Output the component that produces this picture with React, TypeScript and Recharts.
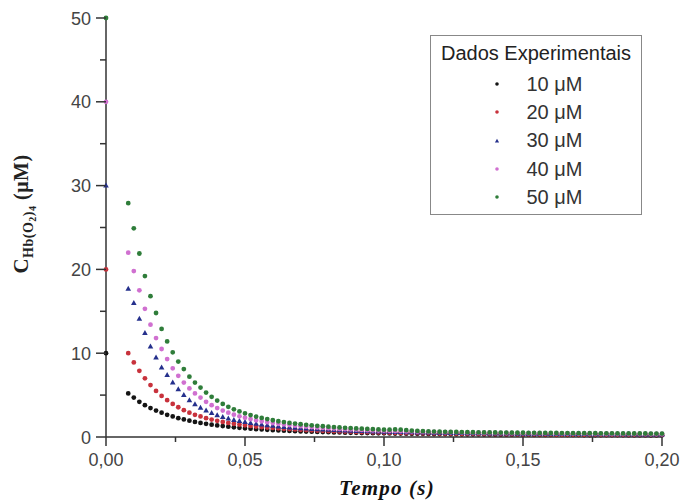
import React from 'react';
import { ScatterChart, Scatter, XAxis, YAxis, Legend, Label } from 'recharts';

// tempo (s): first sample is the initial concentration at t = 0
const TIME = [
  0,
  0.008, 0.01, 0.012, 0.014, 0.016, 0.018, 0.02, 0.022, 0.024, 0.026,
  0.028, 0.03, 0.032, 0.034, 0.036, 0.038, 0.04, 0.042, 0.044, 0.046,
  0.048, 0.05, 0.052, 0.054, 0.056, 0.058, 0.06, 0.062, 0.064, 0.066,
  0.068, 0.07, 0.072, 0.074, 0.076, 0.078, 0.08, 0.082, 0.084, 0.086,
  0.088, 0.09, 0.092, 0.094, 0.096, 0.098, 0.1, 0.102, 0.104, 0.106,
  0.108, 0.11, 0.112, 0.114, 0.116, 0.118, 0.12, 0.122, 0.124, 0.126,
  0.128, 0.13, 0.132, 0.134, 0.136, 0.138, 0.14, 0.142, 0.144, 0.146,
  0.148, 0.15, 0.152, 0.154, 0.156, 0.158, 0.16, 0.162, 0.164, 0.166,
  0.168, 0.17, 0.172, 0.174, 0.176, 0.178, 0.18, 0.182, 0.184, 0.186,
  0.188, 0.19, 0.192, 0.194, 0.196, 0.198, 0.2,
];

const C10 = [
  10,
  5.2, 4.7, 4.2, 3.8, 3.45, 3.15, 2.9, 2.65, 2.45, 2.25,
  2.1, 1.95, 1.8, 1.68, 1.57, 1.47, 1.38, 1.3, 1.23, 1.16,
  1.1, 1.04, 0.99, 0.94, 0.9, 0.86, 0.82, 0.79, 0.76, 0.73,
  0.7, 0.67, 0.65, 0.63, 0.61, 0.59, 0.57, 0.55, 0.54, 0.52,
  0.51, 0.5, 0.48, 0.47, 0.46, 0.45, 0.44, 0.43, 0.42, 0.41,
  0.4, 0.39, 0.38, 0.38, 0.37, 0.36, 0.36, 0.35, 0.34, 0.34,
  0.33, 0.33, 0.32, 0.32, 0.31, 0.31, 0.3, 0.3, 0.29, 0.29,
  0.29, 0.28, 0.28, 0.27, 0.27, 0.27, 0.26, 0.26, 0.26, 0.25,
  0.25, 0.25, 0.24, 0.24, 0.24, 0.24, 0.23, 0.23, 0.23, 0.23,
  0.22, 0.22, 0.22, 0.22, 0.21, 0.21, 0.21,
];

const C20 = [
  20,
  10.0, 8.9, 7.9, 7.0, 6.2, 5.5, 4.9, 4.4, 3.95, 3.55,
  3.2, 2.9, 2.65, 2.45, 2.25, 2.08, 1.93, 1.8, 1.68, 1.58,
  1.48, 1.4, 1.32, 1.25, 1.19, 1.13, 1.08, 1.03, 0.98, 0.94,
  0.9, 0.86, 0.83, 0.8, 0.77, 0.74, 0.71, 0.69, 0.67, 0.65,
  0.63, 0.61, 0.59, 0.57, 0.56, 0.54, 0.53, 0.52, 0.5, 0.49,
  0.48, 0.47, 0.46, 0.45, 0.44, 0.43, 0.42, 0.41, 0.41, 0.4,
  0.39, 0.38, 0.38, 0.37, 0.37, 0.36, 0.35, 0.35, 0.34, 0.34,
  0.33, 0.33, 0.32, 0.32, 0.31, 0.31, 0.31, 0.3, 0.3, 0.29,
  0.29, 0.29, 0.28, 0.28, 0.28, 0.27, 0.27, 0.27, 0.26, 0.26,
  0.26, 0.26, 0.25, 0.25, 0.25, 0.25, 0.24,
];

const C30 = [
  30,
  17.7, 16.0, 14.1, 12.4, 10.8, 9.5, 8.3, 7.4, 6.5, 5.7,
  5.0, 4.4, 3.9, 3.5, 3.15, 2.85, 2.6, 2.38, 2.2, 2.04,
  1.9, 1.78, 1.67, 1.57, 1.48, 1.4, 1.33, 1.26, 1.2, 1.14,
  1.09, 1.04, 1.0, 0.96, 0.92, 0.89, 0.86, 0.83, 0.8, 0.77,
  0.75, 0.73, 0.71, 0.69, 0.67, 0.65, 0.63, 0.62, 0.6, 0.59,
  0.58, 0.56, 0.55, 0.54, 0.53, 0.52, 0.51, 0.5, 0.49, 0.48,
  0.47, 0.46, 0.45, 0.45, 0.44, 0.43, 0.43, 0.42, 0.41, 0.41,
  0.4, 0.4, 0.39, 0.39, 0.38, 0.38, 0.37, 0.37, 0.36, 0.36,
  0.35, 0.35, 0.35, 0.34, 0.34, 0.34, 0.33, 0.33, 0.33, 0.32,
  0.32, 0.32, 0.31, 0.31, 0.31, 0.31, 0.3,
];

const C40 = [
  40,
  22.0, 19.8, 17.5, 15.3, 13.4, 11.8, 10.5, 9.3, 8.2, 7.3,
  6.5, 5.8, 5.2, 4.7, 4.2, 3.8, 3.45, 3.15, 2.9, 2.67,
  2.47, 2.3, 2.14, 2.0, 1.88, 1.77, 1.67, 1.58, 1.5, 1.42,
  1.35, 1.29, 1.23, 1.18, 1.13, 1.08, 1.04, 1.0, 0.96, 0.93,
  0.9, 0.87, 0.84, 0.81, 0.79, 0.77, 0.75, 0.73, 0.71, 0.69,
  0.67, 0.66, 0.64, 0.63, 0.62, 0.6, 0.59, 0.58, 0.57, 0.56,
  0.55, 0.54, 0.53, 0.52, 0.51, 0.51, 0.5, 0.49, 0.48, 0.48,
  0.47, 0.46, 0.46, 0.45, 0.45, 0.44, 0.44, 0.43, 0.43, 0.42,
  0.42, 0.41, 0.41, 0.4, 0.4, 0.4, 0.39, 0.39, 0.38, 0.38,
  0.38, 0.37, 0.37, 0.37, 0.36, 0.36, 0.36,
];

const C50 = [
  50,
  27.9, 24.9, 21.9, 19.2, 16.8, 14.8, 12.9, 11.4, 10.1, 9.0,
  8.1, 7.2, 6.5, 5.9, 5.3, 4.8, 4.35, 3.95, 3.6, 3.3,
  3.05, 2.82, 2.62, 2.44, 2.28, 2.14, 2.0, 1.88, 1.78, 1.68,
  1.6, 1.52, 1.45, 1.39, 1.33, 1.28, 1.23, 1.18, 1.14, 1.1,
  1.06, 1.02, 0.99, 0.96, 0.93, 0.9, 0.88, 0.88, 0.9, 0.88,
  0.82, 0.76, 0.72, 0.69, 0.67, 0.65, 0.63, 0.62, 0.61, 0.6,
  0.59, 0.58, 0.57, 0.56, 0.55, 0.55, 0.54, 0.53, 0.53, 0.52,
  0.51, 0.51, 0.5, 0.5, 0.49, 0.49, 0.48, 0.48, 0.47, 0.47,
  0.46, 0.46, 0.46, 0.45, 0.45, 0.44, 0.44, 0.44, 0.43, 0.43,
  0.43, 0.42, 0.42, 0.42, 0.41, 0.41, 0.41,
];

const SERIES_NAMES = ['10 μM', '20 μM', '30 μM', '40 μM', '50 μM'];

const X_TICKS = [0, 0.025, 0.05, 0.075, 0.1, 0.125, 0.15, 0.175, 0.2];
const X_MAJOR = [0, 0.05, 0.1, 0.15, 0.2];
const X_LABELS = ['0,00', '0,05', '0,10', '0,15', '0,20'];
const Y_TICKS = [0, 5, 10, 15, 20, 25, 30, 35, 40, 45, 50];
const Y_MAJOR = [0, 10, 20, 30, 40, 50];
const Y_LABELS = ['0', '10', '20', '30', '40', '50'];

const SANS = '"Liberation Sans", Arial, sans-serif';
const SERIF = '"Liberation Serif", "DejaVu Serif", serif';
const AXIS = '#333';

const series = [
  { name: SERIES_NAMES[0], values: C10, color: '#141414', kind: 'circle' },
  { name: SERIES_NAMES[1], values: C20, color: '#c8323c', kind: 'circle' },
  { name: SERIES_NAMES[2], values: C30, color: '#25308c', kind: 'triangle' },
  { name: SERIES_NAMES[3], values: C40, color: '#d070d0', kind: 'circle' },
  { name: SERIES_NAMES[4], values: C50, color: '#2f7d3a', kind: 'circle' },
];

const findIdx = (arr, v) => arr.findIndex((a) => Math.abs(a - v) < 1e-9);

const markerPath = (kind, cx, cy, s) =>
  kind === 'triangle'
    ? `M${cx},${cy - 3 * s}L${cx + 2.8 * s},${cy + 2 * s}L${cx - 2.8 * s},${cy + 2 * s}Z`
    : `M${cx - 2.4 * s},${cy}a${2.4 * s},${2.4 * s} 0 1,0 ${4.8 * s},0a${2.4 * s},${2.4 * s} 0 1,0 ${-4.8 * s},0`;

const makeShape = (color, kind) => (props) => {
  const { cx, cy } = props;
  if (cx == null || cy == null) return null;
  return <path d={markerPath(kind, cx, cy, 1)} fill={color} />;
};

const XTick = ({ x, y, payload }) => {
  const i = findIdx(X_MAJOR, payload.value);
  const major = i >= 0;
  return (
    <g>
      <line x1={x} x2={x} y1={y} y2={y + (major ? 9 : 5)} stroke={AXIS} strokeWidth={1.5} />
      {major && (
        <text x={x} y={y + 29} textAnchor="middle" fontSize={18} fill="#444" fontFamily={SANS}>
          {X_LABELS[i]}
        </text>
      )}
    </g>
  );
};

const YTick = ({ x, y, payload }) => {
  const i = findIdx(Y_MAJOR, payload.value);
  const major = i >= 0;
  return (
    <g>
      <line x1={x - (major ? 10 : 6)} x2={x} y1={y} y2={y} stroke={AXIS} strokeWidth={1.5} />
      {major && (
        <text x={x - 15} y={y + 6.5} textAnchor="end" fontSize={18} fill="#444" fontFamily={SANS}>
          {Y_LABELS[i]}
        </text>
      )}
    </g>
  );
};

const YTitle = () => (
  <text
    x={28}
    y={214}
    transform="rotate(-90, 28, 214)"
    textAnchor="middle"
    fontFamily={SERIF}
    fontWeight="bold"
    fontSize={21}
    fill="#222"
    letterSpacing={0.5}
  >
    <tspan>C</tspan>
    <tspan fontSize={14} dy={5}>Hb(O</tspan>
    <tspan fontSize={10} dy={3}>2</tspan>
    <tspan fontSize={14} dy={-3}>)</tspan>
    <tspan fontSize={10} dy={3}>4</tspan>
    <tspan fontSize={20} dy={-8}> (μM)</tspan>
  </text>
);

const XTitle = () => (
  <text
    x={387}
    y={495}
    textAnchor="middle"
    fontFamily={SERIF}
    fontWeight="bold"
    fontStyle="italic"
    fontSize={21}
    letterSpacing={1.2}
    fill="#111"
  >
    Tempo (s)
  </text>
);

const LegendBox = () => (
  <div
    style={{
      width: 212,
      height: 180,
      boxSizing: 'border-box',
      border: '1.5px solid #888',
      background: '#fff',
      fontFamily: SANS,
      color: '#222',
    }}
  >
    <div style={{ textAlign: 'center', fontSize: 20, lineHeight: '24px', marginTop: 5 }}>
      Dados Experimentais
    </div>
    <div style={{ paddingTop: 5 }}>
      {series.map((s) => (
        <div key={s.name} style={{ display: 'flex', alignItems: 'center', height: 28.3, fontSize: 20 }}>
          <svg width={10} height={10} style={{ marginLeft: 60.5 }}>
            <path d={markerPath(s.kind, 5, 5, 0.75)} fill={s.color} />
          </svg>
          <span style={{ marginLeft: 25, color: '#333' }}>{s.name}</span>
        </div>
      ))}
    </div>
  </div>
);

export default function App() {
  return (
    <div style={{ position: 'absolute', left: 0, top: 0, background: '#fff' }}>
      <ScatterChart width={680} height={504} margin={{ top: 18, right: 18, bottom: 37, left: 46 }}>
        <XAxis
          type="number"
          dataKey="t"
          domain={[0, 0.2]}
          ticks={X_TICKS}
          interval={0}
          height={30}
          tickSize={0}
          tickMargin={0}
          tickLine={false}
          tick={XTick}
          axisLine={{ stroke: AXIS, strokeWidth: 1.5 }}
        >
          <Label content={XTitle} />
        </XAxis>
        <YAxis
          type="number"
          dataKey="c"
          domain={[0, 50]}
          ticks={Y_TICKS}
          interval={0}
          width={60}
          tickSize={0}
          tickMargin={0}
          tickLine={false}
          tick={YTick}
          axisLine={{ stroke: AXIS, strokeWidth: 1.5 }}
        >
          <Label content={YTitle} />
        </YAxis>
        <Legend
          layout="vertical"
          align="center"
          verticalAlign="middle"
          wrapperStyle={{ left: 430, top: 35, width: 212 }}
          content={LegendBox}
        />
        {series.map((s) => (
          <Scatter
            key={s.name}
            name={s.name}
            data={TIME.map((t, i) => ({ t, c: s.values[i] }))}
            fill={s.color}
            shape={makeShape(s.color, s.kind)}
            isAnimationActive={false}
          />
        ))}
      </ScatterChart>
    </div>
  );
}
